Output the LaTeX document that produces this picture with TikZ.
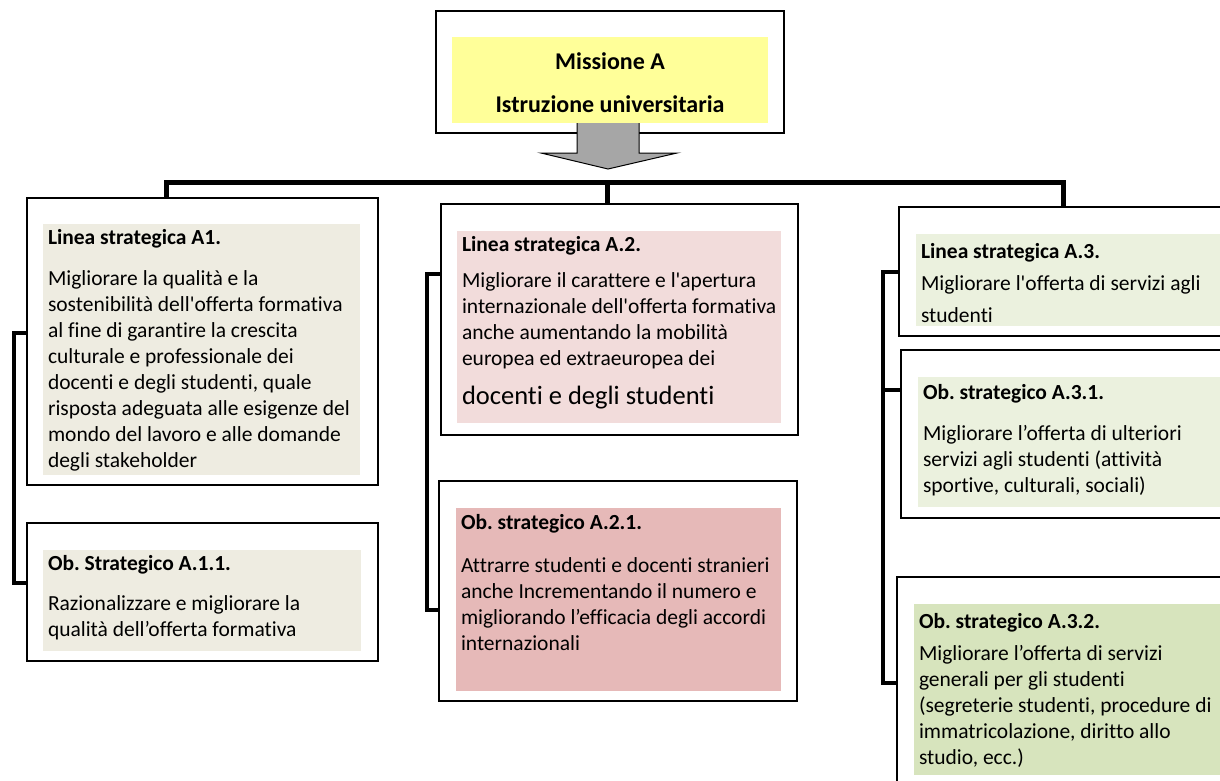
\documentclass[tikz,border=0pt]{standalone}
\usepackage{fontspec}
\setmainfont{Carlito}[Ligatures={TeX,NoCommon}]
\frenchspacing
\usetikzlibrary{positioning}

\definecolor{yellowfill}{HTML}{FFFF99}
\definecolor{tanfill}{HTML}{EEECE1}
\definecolor{pinkfill}{HTML}{F2DCDB}
\definecolor{rosefill}{HTML}{E6B9B8}
\definecolor{greenfill}{HTML}{EBF1DE}
\definecolor{olivefill}{HTML}{D7E4BD}
\definecolor{arrowgrey}{HTML}{A6A6A6}

\begin{document}
\begin{tikzpicture}[x=1pt, y=-1pt,
        box/.style = {draw=black, line width=2.5pt, inner sep=0pt},
        panel/.style = {draw=none, inner sep=0pt},
        txt/.style = {inner sep=0pt, align=left, anchor=north west,
            font=\fontsize{21.5}{26}\selectfont},
        conn/.style = {draw=black, line width=5pt},
        bracket/.style = {draw=black, line width=4pt}]
    \useasboundingbox (0,0) rectangle (1220,780);
    \clip (0,0) rectangle (1220,780);
    % outer frames
    \foreach \name/\xl/\yt/\xr/\yb in {top/436/11/784/133, a1/27/198/378/485,
            a11/27/523/378/661, a2/441/204/798/435, a21/439/481/797/701,
            a3/899/207/1240/336, a31/901/350/1240/518, a32/897/577/1240/800}
        \node[box, minimum width=\xr-\xl, minimum height=\yb-\yt]
            (\name) at ({(\xl+\xr)/2},{(\yt+\yb)/2}) {};
    % coloured panels
    \foreach \name/\xl/\yt/\xr/\yb/\col in {top/452/37/768/123/yellowfill,
            a1/43/224/360/475/tanfill, a11/43/550/361/651/tanfill,
            a2/457/231/781/423/pinkfill, a21/456/508/781/691/rosefill,
            a3/916/234/1220/326/greenfill, a31/918/377/1220/507/greenfill,
            a32/914/604/1220/775/olivefill}
        \node[panel, fill=\col, minimum width=\xr-\xl, minimum height=\yb-\yt]
            (\name-bg) at ({(\xl+\xr)/2},{(\yt+\yb)/2}) {};
    % texts
    \node[txt, anchor=center, align=center, font=\fontsize{24}{28}\selectfont\bfseries]
        (top-txt) at ([yshift=-3]top-bg.center) {Missione A\\[15pt]Istruzione universitaria};
    \node[txt] (a1-txt) at ([shift={(5,5)}]a1-bg.north west)
        {\textbf{Linea strategica A1.}\\[15pt]
        Migliorare la qualità e la\\
        sostenibilità dell\textquotesingle offerta formativa\\
        al fine di garantire la crescita\\
        culturale e professionale dei\\
        docenti e degli studenti, quale\\
        risposta adeguata alle esigenze del\\
        mondo del lavoro e alle domande\\
        degli stakeholder};
    \node[txt] (a11-txt) at ([shift={(5,5)}]a11-bg.north west)
        {\textbf{Ob. Strategico A.1.1.}\\[14pt]
        Razionalizzare e migliorare la\\
        qualità dell’offerta formativa};
    \node[txt] (a2-txt) at ([shift={(5,5)}]a2-bg.north west)
        {\textbf{Linea strategica A.2.}\\[10pt]
        Migliorare il carattere e l\textquotesingle apertura\\
        internazionale dell\textquotesingle offerta formativa\\
        anche aumentando la mobilità\\
        europea ed extraeuropea dei\\[13pt]
        {\fontsize{26.5}{30}\selectfont docenti e degli studenti}};
    \node[txt] (a21-txt) at ([shift={(5,6)}]a21-bg.north west)
        {\textbf{Ob. strategico A.2.1.}\\[17pt]
        Attrarre studenti e docenti stranieri\\
        anche Incrementando il numero e\\
        migliorando l’efficacia degli accordi\\
        internazionali};
    \node[txt] (a3-txt) at ([shift={(5,9)}]a3-bg.north west)
        {\textbf{Linea strategica A.3.}\\[6pt]
        Migliorare l\textquotesingle offerta di servizi agli\\[6pt]
        studenti};
    \node[txt] (a31-txt) at ([shift={(5,7)}]a31-bg.north west)
        {\textbf{Ob. strategico A.3.1.}\\[15pt]
        Migliorare l’offerta di ulteriori\\
        servizi agli studenti (attività\\
        sportive, culturali, sociali)};
    \node[txt] (a32-txt) at ([shift={(5,9)}]a32-bg.north west)
        {\textbf{Ob. strategico A.3.2.}\\[6pt]
        Migliorare l’offerta di servizi\\
        generali per gli studenti\\
        (segreterie studenti, procedure di\\
        immatricolazione, diritto allo\\
        studio, ecc.)};
    % tree connectors
    \coordinate (barL) at (166,182.5);
    \coordinate (barM) at (607,182.5);
    \coordinate (barR) at (1063,182.5);
    \path[conn] (a1.north -| barL) -- (barL) -- (barR) -- (a3.north -| barR);
    \path[conn] (barM) -- (a2.north -| barM);
    % side brackets
    \coordinate (s1) at (14,333);  \coordinate (s2) at (14,583);
    \coordinate (s3) at (427,274); \coordinate (s4) at (427,610);
    \coordinate (s5) at (883,272); \coordinate (s6) at (883,390);
    \coordinate (s7) at (883,683);
    \path[bracket] (a1.west |- s1) -- (s1) -- (s2) -- (a11.west |- s2);
    \path[bracket] (a2.west |- s3) -- (s3) -- (s4) -- (a21.west |- s4);
    \path[bracket] (a3.west |- s5) -- (s5) -- (s7) -- (a32.west |- s7);
    \path[bracket] (s6) -- (a31.west |- s6);
    % grey arrow
    \filldraw[fill=arrowgrey, draw=black, line width=1pt]
        (577,123) -- (577,153) -- (541,153) -- (608,169) -- (677,153)
        -- (639,153) -- (639,123);
\end{tikzpicture}
\end{document}
